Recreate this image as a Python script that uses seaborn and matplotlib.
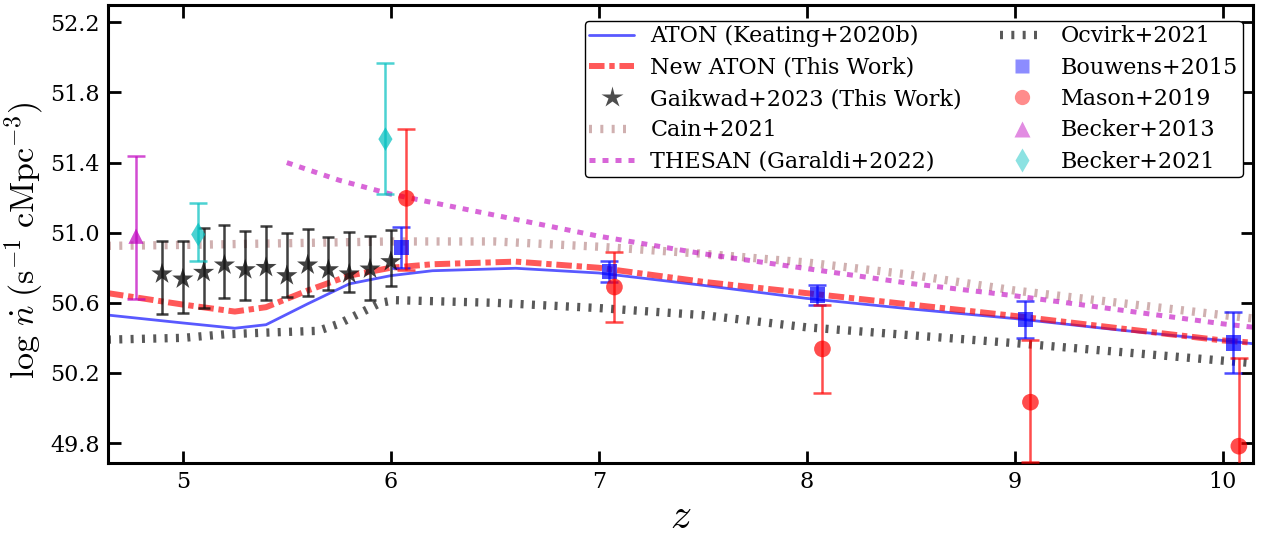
import numpy as np
import pandas as pd
import matplotlib
matplotlib.use("Agg")
import matplotlib.pyplot as plt
from matplotlib.lines import Line2D
import seaborn as sns

# ---------------- data ----------------
aton_z = [4.64, 5.0, 5.25, 5.4, 5.6, 5.8, 6.0, 6.2, 6.6, 7.0, 7.5, 8.0, 8.5, 9.0, 9.5, 10.0, 10.15]
aton_v = [50.53, 50.485, 50.455, 50.475, 50.594, 50.708, 50.755, 50.783, 50.797, 50.77, 50.70, 50.625, 50.565, 50.51, 50.445, 50.385, 50.366]

newaton_z = [4.64, 5.0, 5.25, 5.4, 5.6, 5.8, 6.0, 6.2, 6.6, 7.0, 7.5, 8.0, 8.5, 9.0, 9.5, 10.0, 10.15]
newaton_v = [50.655, 50.59, 50.55, 50.575, 50.67, 50.755, 50.80, 50.82, 50.835, 50.80, 50.72, 50.655, 50.59, 50.525, 50.455, 50.385, 50.372]

cain_z = [4.64, 5.0, 5.5, 6.0, 6.5, 7.0, 7.5, 8.0, 8.5, 9.0, 9.5, 10.0, 10.15]
cain_v = [50.925, 50.93, 50.94, 50.95, 50.95, 50.92, 50.88, 50.83, 50.76, 50.67, 50.60, 50.53, 50.51]

thesan_z = [5.5, 5.75, 6.0, 6.5, 7.0, 7.5, 8.0, 8.5, 9.0, 9.5, 10.0, 10.15]
thesan_v = [51.40, 51.30, 51.22, 51.10, 50.98, 50.88, 50.795, 50.71, 50.64, 50.56, 50.48, 50.46]

ocvirk_z = [4.64, 5.0, 5.2, 5.4, 5.65, 5.75, 5.85, 5.95, 6.02, 6.5, 7.0, 7.5, 8.0, 8.5, 9.0, 9.5, 10.0, 10.15]
ocvirk_v = [50.39, 50.40, 50.42, 50.43, 50.44, 50.48, 50.54, 50.60, 50.615, 50.60, 50.57, 50.53, 50.46, 50.415, 50.37, 50.32, 50.27, 50.255]

gaik_z = [4.9, 5.0, 5.1, 5.2, 5.3, 5.4, 5.5, 5.6, 5.7, 5.8, 5.9, 6.0]
gaik_v = [50.765, 50.736, 50.774, 50.816, 50.789, 50.802, 50.755, 50.816, 50.789, 50.765, 50.793, 50.835]
gaik_hi = [50.95, 50.954, 51.027, 51.046, 51.011, 51.036, 50.996, 51.019, 50.977, 51.006, 50.981, 51.017]
gaik_lo = [50.537, 50.54, 50.569, 50.626, 50.618, 50.617, 50.631, 50.637, 50.673, 50.66, 50.618, 50.698]

bouwens_z = [6.05, 7.05, 8.05, 9.05, 10.05]
bouwens_v = [50.916, 50.78, 50.645, 50.503, 50.37]
bouwens_hi = [51.034, 50.84, 50.70, 50.613, 50.55]
bouwens_lo = [50.80, 50.72, 50.588, 50.40, 50.20]

mason_z = [6.075, 7.075, 8.075, 9.075, 10.077]
mason_v = [51.196, 50.69, 50.337, 50.033, 49.782]
mason_hi = [51.594, 50.89, 50.59, 50.39, 50.286]
mason_lo = [50.79, 50.49, 50.085, 49.69, 49.30]

becker13_z = [4.775]
becker13_v = [50.98]
becker13_hi = [51.44]
becker13_lo = [50.62]

becker21_z = [5.074, 5.974]
becker21_v = [50.99, 51.534]
becker21_hi = [51.17, 51.967]
becker21_lo = [50.84, 51.22]

legend_labels = ["ATON (Keating+2020b)", "New ATON (This Work)", "Gaikwad+2023 (This Work)",
                 "Cain+2021", "THESAN (Garaldi+2022)", "Ocvirk+2021", "Bouwens+2015",
                 "Mason+2019", "Becker+2013", "Becker+2021"]
xtick_vals = [5, 6, 7, 8, 9, 10]
ytick_vals = [49.8, 50.2, 50.6, 51.0, 51.4, 51.8, 52.2]

# ---------------- style ----------------
sns.set_style("ticks")
plt.rcParams["font.family"] = ["DejaVu Serif"]
plt.rcParams["mathtext.fontset"] = "cm"
plt.rcParams["text.color"] = "black"
plt.rcParams["axes.labelcolor"] = "black"
plt.rcParams["xtick.color"] = "black"
plt.rcParams["ytick.color"] = "black"
plt.rcParams["axes.edgecolor"] = "black"

fig, ax = plt.subplots(figsize=(12.64, 5.38), dpi=100)
fig.subplots_adjust(left=0.0854, right=0.9913, top=0.991, bottom=0.1394)

DASH_ATON = (2.6, 0.8, 0.9, 0.8)
DASH_BAR = (0.36, 1.0)
DASH_TH = (1.2, 1.4)

def line(z, v, color, lw, dashes, alpha, zorder=2):
    sns.lineplot(x=z, y=v, ax=ax, color=color, lw=lw, alpha=alpha, zorder=zorder,
                 sort=False, estimator=None)
    ln = ax.lines[-1]
    if dashes is not None:
        ln.set_dashes(dashes)
        ln.set_dash_capstyle("butt")
    return ln

line(cain_z, cain_v, "rosybrown", 6.0, DASH_BAR, 0.7)
line(ocvirk_z, ocvirk_v, "black", 6.0, DASH_BAR, 0.65)
line(thesan_z, thesan_v, "m", 3.6, DASH_TH, 0.6)
line(aton_z, aton_v, "blue", 2.0, None, 0.65)
line(newaton_z, newaton_v, "red", 4.3, DASH_ATON, 0.65)

def errpts(z, v, hi, lo, color, marker, ms, capsize, alpha, zorder=4):
    z = np.asarray(z); v = np.asarray(v)
    yerr = np.vstack([v - np.asarray(lo), np.asarray(hi) - v])
    ax.errorbar(z, v, yerr=yerr, fmt="none", ecolor=color, elinewidth=1.8,
                capsize=capsize, capthick=1.8, alpha=alpha, zorder=zorder)
    df = pd.DataFrame({"z": z, "v": v})
    sns.scatterplot(data=df, x="z", y="v", ax=ax, color=color, marker=marker,
                    s=ms ** 2, alpha=alpha, edgecolor="none", zorder=zorder + 1, legend=False)

errpts(gaik_z, gaik_v, gaik_hi, gaik_lo, "#111111", "*", 16, 4.5, 0.8)
errpts(becker13_z, becker13_v, becker13_hi, becker13_lo, "m", "^", 11, 6.5, 0.7)
errpts(becker21_z, becker21_v, becker21_hi, becker21_lo, "c", "d", 12, 6.5, 0.7)
errpts(bouwens_z, bouwens_v, bouwens_hi, bouwens_lo, "blue", "s", 11, 6.5, 0.7)
errpts(mason_z, mason_v, mason_hi, mason_lo, "red", "o", 12, 6.5, 0.7)

ax.set_xlim(4.64, 10.145)
ax.set_ylim(49.686, 52.3)
ax.set_xticks(xtick_vals)
ax.set_xticklabels([str(t) for t in xtick_vals])
ax.set_yticks(ytick_vals)
ax.set_yticklabels([f"{t:.1f}" for t in ytick_vals])
ax.tick_params(direction="in", length=9, width=2, top=True, right=True,
               labelsize=16, pad=6, colors="black")
for s in ax.spines.values():
    s.set_linewidth(2.2)
    s.set_color("black")
    s.set_visible(True)
ax.set_xlabel(r"$z$", fontsize=30, labelpad=1)
ax.set_ylabel(r"$\log\,\dot{n}\;(\mathrm{s}^{-1}\;\mathrm{cMpc}^{-3})$", fontsize=24.5)
ax.yaxis.set_label_coords(-0.055, 0.487)

# legend proxies
h = [
    Line2D([], [], color="blue", lw=2.0, alpha=0.65),
    Line2D([], [], color="red", lw=4.3, alpha=0.65, dashes=DASH_ATON, dash_capstyle="butt"),
    Line2D([], [], color="#111111", ls="none", marker="*", ms=16, alpha=0.75, mec="none"),
    Line2D([], [], color="rosybrown", lw=6.0, alpha=0.7, dashes=DASH_BAR, dash_capstyle="butt"),
    Line2D([], [], color="m", lw=3.6, alpha=0.6, dashes=DASH_TH, dash_capstyle="butt"),
    Line2D([], [], color="black", lw=6.0, alpha=0.65, dashes=DASH_BAR, dash_capstyle="butt"),
    Line2D([], [], color="blue", ls="none", marker="s", ms=10, alpha=0.45, mec="none"),
    Line2D([], [], color="red", ls="none", marker="o", ms=11, alpha=0.45, mec="none"),
    Line2D([], [], color="m", ls="none", marker="^", ms=11, alpha=0.45, mec="none"),
    Line2D([], [], color="c", ls="none", marker="d", ms=12, alpha=0.45, mec="none"),
]
leg = ax.legend(h, legend_labels, ncol=2, loc="upper right", fontsize=16,
                frameon=True, fancybox=True, edgecolor="black", framealpha=1,
                handlelength=2.0, handletextpad=0.75, columnspacing=1.7, labelspacing=0.42,
                borderpad=0.2, borderaxespad=0.0, bbox_to_anchor=(0.991, 0.965))
leg.get_frame().set_linewidth(1.0)
for t in leg.get_texts():
    t.set_color("black")

fig.savefig("out.png", dpi=100)
